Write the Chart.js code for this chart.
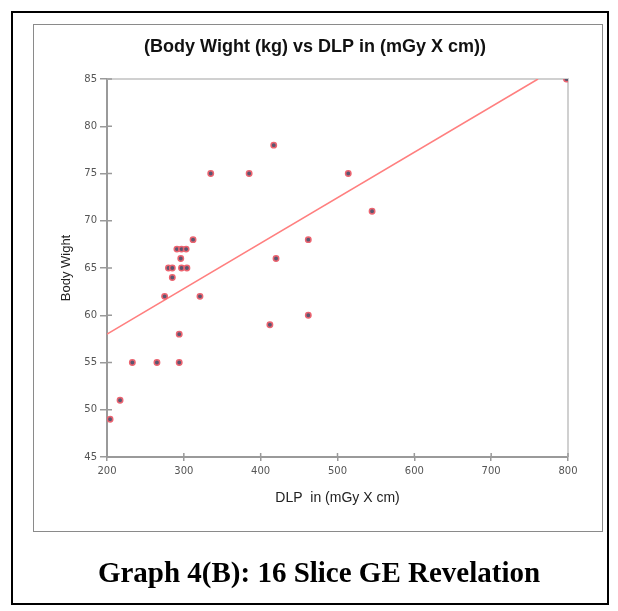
<!DOCTYPE html>
<html>
<head>
<meta charset="utf-8">
<script src="https://cdn.jsdelivr.net/npm/chart.js@4"></script>
<style>
  body { margin: 0; background: #fff; }
  #outer { position: absolute; left: 11px; top: 11px; width: 594px; height: 590px; border: 2px solid #000; }
  #inner { position: absolute; left: 33px; top: 24px; width: 568px; height: 506px; border: 1px solid #8a8a8a; }
  #wrap { position: absolute; left: 0; top: 0; width: 618px; height: 611px; }
  #caption { position: absolute; left: 10px; width: 618px; top: 556px; text-align: center;
    font: bold 29px "Liberation Serif", "Times New Roman", serif; color: #000; }
</style>
</head>
<body>
<div id="outer"></div>
<div id="inner"></div>
<div id="wrap"><canvas id="grafico" width="618" height="611"></canvas></div>
<div id="caption">Graph 4(B): 16 Slice GE Revelation</div>
<script>
// DLP (mGy X cm) e peso corporal (kg)
const dlp = [204, 217, 233, 265, 294, 294, 275, 321, 280, 285, 297, 304, 285, 296,
  291, 297, 303, 312, 335, 385, 417, 420, 412, 462, 462, 514, 545, 798];
const pesos = [49, 51, 55, 55, 55, 58, 62, 62, 65, 65, 65, 65, 64, 66,
  67, 67, 67, 68, 75, 75, 78, 66, 59, 68, 60, 75, 71, 85];

// linha de tendência (extremos)
const tendenciaX = [200, 761];
const tendenciaY = [58.0, 85];

const ticksX = [200, 300, 400, 500, 600, 700, 800];
const ticksY = [45, 50, 55, 60, 65, 70, 75, 80, 85];

const pontos = dlp.map((x, i) => ({ x: x, y: pesos[i] }));
const tendencia = tendenciaX.map((x, i) => ({ x: x, y: tendenciaY[i] }));

// ticks que cruzam o eixo + bordas superior/direita
const molduraPlugin = {
  id: 'moldura',
  beforeDatasetsDraw(chart) {
    const { ctx, chartArea: a, scales } = chart;
    ctx.save();
    ctx.strokeStyle = '#d0d0d0';
    ctx.lineWidth = 2;
    ctx.beginPath();
    ctx.moveTo(a.left, a.top);
    ctx.lineTo(a.right, a.top);
    ctx.lineTo(a.right, a.bottom);
    ctx.stroke();
    ctx.strokeStyle = '#9a9a9a';
    ctx.lineWidth = 1.5;
    ctx.beginPath();
    ticksX.forEach(v => {
      const px = scales.x.getPixelForValue(v);
      ctx.moveTo(px, a.bottom);
      ctx.lineTo(px, a.bottom - 4);
    });
    ticksY.forEach(v => {
      const py = scales.y.getPixelForValue(v);
      ctx.moveTo(a.left, py);
      ctx.lineTo(a.left + 5, py);
    });
    ctx.stroke();
    ctx.restore();
  }
};

new Chart(document.getElementById('grafico'), {
  type: 'scatter',
  data: {
    datasets: [
      {
        label: 'Tendência',
        type: 'line',
        data: tendencia,
        borderColor: '#ff7f7f',
        borderWidth: 1.6,
        pointRadius: 0,
        fill: false,
        order: 2
      },
      {
        label: 'Body Wight',
        data: pontos,
        backgroundColor: '#5b5670',
        borderColor: '#ec6470',
        borderWidth: 1.5,
        pointRadius: 2.7,
        order: 1
      }
    ]
  },
  plugins: [molduraPlugin],
  options: {
    responsive: false,
    animation: false,
    layout: { padding: { left: 62, right: 50, top: 19, bottom: 104 } },
    plugins: {
      legend: { display: false },
      tooltip: { enabled: false },
      title: {
        display: true,
        text: '(Body Wight (kg) vs DLP in (mGy X cm))',
        color: '#111',
        font: { family: 'Liberation Sans', size: 18, weight: 'bold', lineHeight: 1.2 },
        padding: { top: 17, bottom: 21.4 }
      }
    },
    scales: {
      x: {
        type: 'linear',
        min: 200,
        max: 800,
        afterFit: s => { s.height = 50; },
        afterBuildTicks: s => { s.ticks = ticksX.map(v => ({ value: v })); },
        grid: { display: true, drawOnChartArea: false, color: '#9a9a9a', lineWidth: 1.5, tickLength: 4 },
        border: { color: '#9a9a9a', width: 2 },
        ticks: { color: '#555', padding: 4, font: { family: 'DejaVu Sans', size: 10 } },
        title: {
          display: true,
          text: 'DLP  in (mGy X cm)',
          color: '#222',
          padding: { top: 4, bottom: 0 },
          font: { family: 'Liberation Sans', size: 14 }
        }
      },
      y: {
        type: 'linear',
        min: 45,
        max: 85,
        afterFit: s => { s.width = 45; },
        afterBuildTicks: s => { s.ticks = ticksY.map(v => ({ value: v })); },
        grid: { display: true, drawOnChartArea: false, color: '#9a9a9a', lineWidth: 1.5, tickLength: 7 },
        border: { color: '#9a9a9a', width: 2 },
        ticks: { color: '#555', padding: 3, font: { family: 'DejaVu Sans', size: 10 } },
        title: {
          display: true,
          text: 'Body Wight',
          color: '#222',
          padding: { top: -3, bottom: 0 },
          font: { family: 'Liberation Sans', size: 13 }
        }
      }
    }
  }
});
</script>
</body>
</html>
